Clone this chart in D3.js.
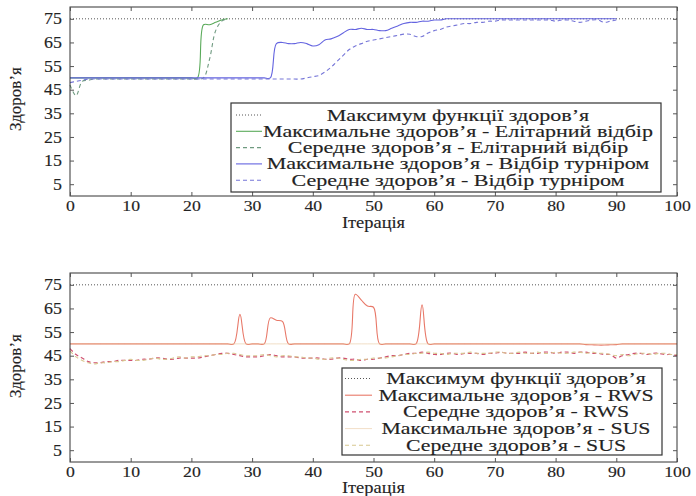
<!DOCTYPE html>
<html><head><meta charset="utf-8">
<script src="https://cdn.jsdelivr.net/npm/d3@7"></script>
<style>
body{margin:0;background:#fff;}
svg text{font-family:"Liberation Serif",serif;fill:#222;stroke:#333;stroke-width:0.15px;}
</style></head>
<body><svg id="c" width="696" height="496"></svg>
<script>
// ---------- data ----------
const xTicks = [0,10,20,30,40,50,60,70,80,90,100];
const yTicks = [5,15,25,35,45,55,65,75];
const maxFitness = 75;

// top chart
const eliteIter = d3.range(0,27);
const eliteMax = [50,50,50,50,50,50,50,50,50,50,50,50,50,50,50,50,50,50,50,50,50,50,72.5,72.5,73.5,74.5,75];
const eliteAvg = [47,42.5,48.5,49,49.5,49.5,49.5,49.5,49.5,49.5,49.5,49.5,49.5,49.5,49.5,49.5,49.5,49.5,49.5,49.5,49.5,49.5,50,58,70,74,75];
const tourIter = d3.range(0,91);
const tourMax = [50,50,50,50,50,50,50,50,50,50,50,50,50,50,50,50,50,50,50,50,50,50,50,50,50,50,50,50,50,50,50,50,50,50,
  64.5,65,64.5,64.5,65,64.5,63.5,64,66,66.5,67.5,69,70.5,70.5,71,70.5,70.5,70,70,71,72,73,73.5,73.5,74,74,74.5,74.5,
  75,75,75,75,75,75,75,75,75,75,75,75,75,75,75,75,75,75,75,75,75,75,75,75,75,75,75,75,75];
const tourAvg = [48,48.5,49,49.5,49.5,49.5,49.5,49.5,49.5,49.5,49.5,49.5,49.5,49.5,49.5,49.5,49.5,49.5,49.5,49.5,49.5,49.5,49.5,49.5,49.5,49.5,49.5,49.5,49.5,49.5,49.5,49.5,49.5,49.5,49.5,49.5,49.5,49.5,49.5,
  50,50.5,51,52.5,54.5,57,59.5,62,63.5,64.5,65.5,66,66.5,67,67.5,68,68.5,68.5,67.5,67.5,69,70,70.5,71.5,72,72.5,73,73,73.5,73.5,74,74,74.5,74.5,
  74.5,74.5,74.5,74.5,74.5,74.5,74.5,74,74.5,74.5,74,73.5,74,74.5,74.5,73.5,74,74.5];

// bottom chart
const selIter = d3.range(0,101);
const rwsMax = [50,50,50,50,50,50,50,50,50,50,50,50,50,50,50,50,50,50,50,50,50,50,50,50,50,50,50,50,62.5,50,50,50,50,61,60,59.5,50,
  50,50,50,50,50,50,50,50,50,50,71,68.5,66,65.5,50,50,50,50,50,50,50,66.5,50,
  50,50,50,50,50,50,50,50,50,50,50,50,50,50,50,50,50,50,50,50,50,50,50,50,50,49.7,49.6,49.5,49.5,49.6,49.7,50,50,50,50,50,50,50,50,50,50];
const rwsAvg = [48,45.5,44,42.5,42,42,42.5,42.5,43,43,43,43,43.5,43.5,44,44,43.5,43.5,44,44,44,44,44.5,45,45.5,46,46,45.5,45,44.5,
  44.5,44.5,45,45.5,45,44.5,44.5,44.5,44,44,44,44,43.5,43.5,44,44,43.5,43.5,43,43.5,43.5,44,44.5,45,45,45.5,46,46,46.5,46,
  45.5,45.5,46,46,45.5,46,46,46,45.5,46,46,46.5,46,46,46,46.5,46,46,46.5,46.5,46,46.5,46.5,46,46.5,46.5,46,46,45.5,45.5,
  44,45,45.5,46,46,45.5,46,46,45.5,45.5,45];
const susMax = selIter.map(() => 50);
const susAvg = [47,44.5,43,42,41.5,42,42,42.5,42.5,43,43.5,43,43,43.5,44,43.5,43.5,44,44.5,44,44.5,44.5,45,45,45.5,45.5,46,46,45.5,45,
  45,45,45.5,45,44.5,45,45,44.5,44.5,44,44,43.5,43.5,44,44,43.5,43,43,43.5,43.5,44,44,44,44.5,45,45.5,45.5,46,46,46.5,
  46,46,45.5,46,46,46,46.5,46,46,46,46.5,46.5,46,46,46.5,46,46,46.5,46,46,46.5,46,46,46.5,46.5,46,46.5,46,46,45.5,
  45,45.5,45,45.5,46,46,45.5,46,46,45.5,45.5];

const topLegend = ["Максимум функції здоров’я","Максимальне здоров’я - Елітарний відбір","Середне здоров’я - Елітарний відбір",
  "Максимальне здоров’я - Відбір турніром","Середне здоров’я - Відбір турніром"];
const botLegend = ["Максимум функції здоров’я","Максимальне здоров’я - RWS","Середне здоров’я - RWS",
  "Максимальне здоров’я - SUS","Середне здоров’я - SUS"];

// ---------- drawing ----------
const svg = d3.select("#c");
const FONT = "Liberation Serif";
const styleMaxFit = {color:"#555", dash:"1,2", w:1};

// stretch a text horizontally (the reference's serif lettering is wide)
function stretch(sel, k){
  sel.each(function(){
    const w = this.getComputedTextLength();
    d3.select(this).attr("textLength", w*k).attr("lengthAdjust","spacingAndGlyphs");
  });
}

function panel(cfg){
  const x = d3.scaleLinear().domain([0,100]).range([70,677]);
  const y = d3.scaleLinear().domain([0,80]).range([cfg.y0, cfg.y1]);
  const g = svg.append("g");
  const line = d3.line().x(d=>x(d[0])).y(d=>y(d[1])).curve(d3.curveCatmullRom.alpha(0.5));

  const all = [{xs:[0,100], ys:[maxFitness,maxFitness], s:styleMaxFit, straight:true}].concat(cfg.series);
  all.forEach(se => {
    const pts = se.xs.map((v,i)=>[v,se.ys[i]]);
    g.append("path").attr("d", se.straight ? d3.line().x(d=>x(d[0])).y(d=>y(d[1]))(pts) : line(pts))
      .attr("fill","none").attr("stroke",se.s.color).attr("stroke-width",se.s.w)
      .attr("stroke-dasharray",se.s.dash||null);
  });

  g.append("rect").attr("x",x(0)).attr("y",y(80)).attr("width",x(100)-x(0)).attr("height",y(0)-y(80))
    .attr("fill","none").attr("stroke","#333").attr("stroke-width",1);
  const ax = g.append("g").attr("transform",`translate(0,${y(0)})`)
    .call(d3.axisBottom(x).tickValues(xTicks).tickSize(-4).tickPadding(4).tickFormat(d3.format("d")));
  const axT = g.append("g").attr("transform",`translate(0,${y(80)})`)
    .call(d3.axisTop(x).tickValues(xTicks).tickSize(-4).tickFormat(""));
  const ay = g.append("g").attr("transform",`translate(${x(0)},0)`)
    .call(d3.axisLeft(y).tickValues(yTicks).tickSize(-4).tickPadding(8));
  const ayR = g.append("g").attr("transform",`translate(${x(100)},0)`)
    .call(d3.axisRight(y).tickValues(yTicks).tickSize(-4).tickFormat(""));
  [ax,axT,ay,ayR].forEach(a=>{
    a.attr("font-family",FONT);
    a.select(".domain").remove();
    a.selectAll("line").attr("stroke","#555");
    a.selectAll("text").style("font-family",FONT).style("font-size","16px").attr("fill","#333");
  });
  ax.selectAll("text").style("font-size","15px");
  stretch(ax.selectAll("text"),1.18);
  stretch(ay.selectAll("text"),1.12);

  const xl = g.append("text").attr("x",(x(0)+x(100))/2).attr("y",cfg.xLabelY).attr("text-anchor","middle")
    .style("font-size","16px").text("Ітерація");
  stretch(xl,1.15);
  g.append("text").attr("transform",`translate(${cfg.yLabelX},${cfg.yLabelY}) rotate(-90)`)
    .attr("text-anchor","middle").attr("dominant-baseline","middle").style("font-size","17px").text("Здоров’я");

  const L = cfg.legend;
  const lg = g.append("g");
  lg.append("rect").attr("x",L.x0).attr("y",L.y0).attr("width",L.x1-L.x0).attr("height",L.y1-L.y0)
    .attr("fill","#fff").attr("stroke","#333").attr("stroke-width",1.2);
  const texts = [];
  all.forEach((se,i)=>{
    const cy = L.row0 + i*L.step;
    lg.append("line").attr("x1",L.sx0).attr("x2",L.sx1).attr("y1",cy).attr("y2",cy)
      .attr("stroke",se.s.color).attr("stroke-width",se.s.w).attr("stroke-dasharray",se.s.dash||null);
    texts.push(lg.append("text").attr("x",L.tc).attr("y",cy).attr("text-anchor","middle").attr("dominant-baseline","central")
      .style("font-size",L.fs+"px").text(L.labels[i]).node());
  });
  const maxW = d3.max(texts, t=>t.getComputedTextLength());
  stretch(d3.selectAll(texts), L.w/maxW);
}

panel({
  y0:196, y1:7, xLabelY:228, yLabelX:17, yLabelY:99,
  series:[
    {xs:eliteIter, ys:eliteMax, s:{color:"#5aaa5a", w:1.1}},
    {xs:eliteIter, ys:eliteAvg, s:{color:"#6f9a80", w:1.1, dash:"4,3"}},
    {xs:tourIter, ys:tourMax, s:{color:"#6464e0", w:1.1}},
    {xs:tourIter, ys:tourAvg, s:{color:"#7676d8", w:1.1, dash:"4,3"}}
  ],
  legend:{x0:231,x1:661,y0:103,y1:192,row0:115,step:16.3,sx0:236,sx1:262,tc:458,fs:16,w:390,labels:topLegend}
});
panel({
  y0:462, y1:273, xLabelY:493, yLabelX:17, yLabelY:366,
  series:[
    {xs:selIter, ys:rwsMax, s:{color:"#e87868", w:1.1}},
    {xs:selIter, ys:rwsAvg, s:{color:"#d05070", w:1.2, dash:"4,3"}},
    {xs:selIter, ys:susMax, s:{color:"#e8c8a0", w:0.6}},
    {xs:selIter, ys:susAvg, s:{color:"#d8c890", w:1.1, dash:"4,3"}}
  ],
  legend:{x0:342,x1:662,y0:368,y1:455,row0:378.5,step:16.7,sx0:345,sx1:372,tc:516,fs:16,w:275,labels:botLegend}
});
</script></body></html>
